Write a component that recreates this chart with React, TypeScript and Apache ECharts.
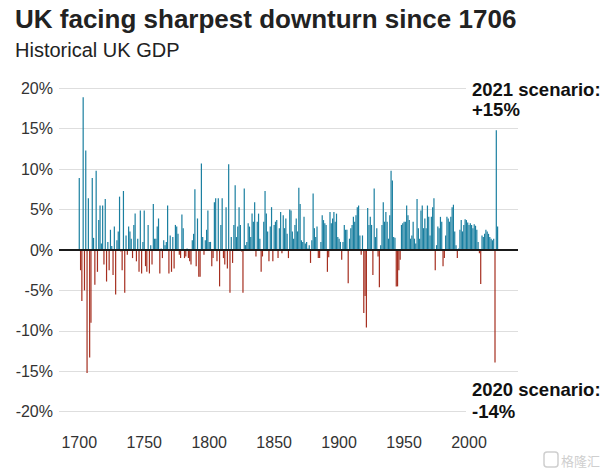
import React, { useEffect, useRef } from "react";
import * as echarts from "echarts";

const START_YEAR = 1700;

// Annual UK GDP growth (%)
const growth1700s = [
  8.9, -2.5, -6.3, 18.9, -5.0, 12.3, -15.2, 6.4, -13.3, -9.0,
  8.9, 1.5, -4.3, 9.8, -2.7, 3.7, 5.5, 0.8, 5.5, -1.8,
  6.3, -3.9, 1.0, -2.5, 2.5, 0.5, -3.1, 2.9, -5.5, 1.2,
  2.3, 6.6, -0.2, -2.5, 7.3, -5.3, 1.8, -0.6, 2.9, 2.3,
  1.4, -1.0, 3.1, 4.5, -1.4, 1.4, -2.7, 4.9, -2.9, 1.0,
  4.9, -2.0, -2.7, 3.1, -2.9, 0.6, -1.8, 5.7, 1.4, 1.4,
  2.9, 3.9, -2.9, 0.2, -1.0, 1.2, 0.6, 1.0, 5.5, -2.9,
  1.8, -2.7, 1.6, -2.3, 3.1, 2.9, 2.0, -0.6, -1.0, 4.4,
  2.7, -1.0, -0.8, 0.2, -1.0, -1.4, -1.8, 1.2, 2.0, 7.5,
  -2.0, 3.9, -3.3, -3.3, 10.7, 1.6, -0.6, 1.2, 2.5, 4.9,
];
const growth1800s = [
  1.0, 1.0, -2.0, -1.0, 5.9, 6.4, -1.4, 6.4, -4.5, 3.1,
  6.4, -1.0, -1.8, 5.3, -2.3, 10.6, -5.3, 1.6, -1.6, 3.1,
  8.0, 1.6, 2.9, 5.3, 3.1, -0.2, -5.3, 7.6, 0.6, 1.0,
  3.3, 2.9, 1.6, 4.5, 3.5, 5.9, -0.8, 3.5, 4.5, 1.4,
  -2.7, -0.8, 3.5, 7.3, 4.5, 2.3, -1.4, 2.9, 5.3, -1.4,
  3.1, 3.5, 3.7, -1.0, 2.7, 4.7, -0.4, 4.3, 2.7, 3.9,
  2.0, -1.0, 5.0, 4.9, 2.3, 1.4, 3.1, 3.9, 2.3, 7.7,
  5.7, 1.2, 1.0, 4.1, 0.8, 1.0, 0.2, 0.6, -1.6, 1.2,
  7.0, 2.7, 1.6, 2.9, -1.0, -1.0, 1.0, 4.3, 3.7, 3.3,
  3.1, -2.7, -0.9, 4.7, 3.3, 3.9, 4.7, 3.5, 4.5, 1.6,
];
const growth1900s = [
  1.4, 1.0, -1.2, 1.0, 3.1, 2.5, 2.5, -4.1, 1.4, 2.7,
  3.1, 4.1, 3.5, 4.3, 5.3, 5.5, 1.8, -0.6, 1.8, -7.8,
  -5.7, -9.6, 5.2, 3.1, 4.1, 3.1, -3.1, 7.6, 1.6, 2.7,
  -0.8, -4.6, 0.6, 3.1, 5.9, 3.5, 4.7, 3.5, 1.4, 4.3,
  9.8, 8.6, 1.6, 1.5, -4.5, -4.5, -2.5, -1.2, 3.1, 3.3,
  3.5, 3.5, 5.5, 4.3, 3.7, 1.4, 1.8, 3.5, 1.4, 0.8,
  6.3, 2.7, 1.4, 4.9, 5.5, 2.7, 3.9, 2.7, 5.5, 4.1,
  1.8, 4.1, 5.3, 6.4, -2.5, 0.6, 2.9, 2.7, 4.1, 3.5,
  -2.0, -1.0, 1.8, 4.1, 3.9, 3.5, 4.1, 5.3, 5.6, 2.3,
  0.6, -1.0, 0.2, 2.5, 3.7, 2.3, 3.1, 3.8, 3.7, 3.4,
];
const growth2000s = [
  3.1, 3.3, 3.1, 2.7, 3.2, 3.0, 2.5, 1.0, -0.4, -4.2,
  1.8, 1.6, 2.0, 2.5, 2.3, 2.0, 1.6, 1.4, 1.2, 1.4,
  -13.9, 14.8, 2.9,
];

const xTickYears = [1700, 1750, 1800, 1850, 1900, 1950, 2000];
const yMin = -20;
const yMax = 20;
const yStep = 5;

const titleText = "UK facing sharpest downturn since 1706";
const subtitleText = "Historical UK GDP";
const note2021 = ["2021 scenario:", "+15%"];
const note2020 = ["2020 scenario:", "-14%"];
const watermarkText = "格隆汇";

const FONT = "'Liberation Sans', Arial, Helvetica, sans-serif";
const POS = "#1a7fa0";
const NEG = "#a52e1f";

export default function App() {
  const ref = useRef<HTMLDivElement>(null);

  useEffect(() => {
    if (!ref.current) return;
    const chart = echarts.init(ref.current, null, { renderer: "svg" });
    const values = [...growth1700s, ...growth1800s, ...growth1900s, ...growth2000s];
    const data = values.map((v, i) => ({
      value: [START_YEAR + i, v],
      itemStyle: { color: v >= 0 ? POS : NEG },
    }));

    const txt = (text: string, x: number, y: number, size: number, weight: string, fill = "#1a1a1a") => ({
      type: "text",
      x,
      y,
      z: 20,
      silent: true,
      style: {
        text,
        fill,
        fontSize: size,
        fontWeight: weight,
        fontFamily: FONT,
        align: "left",
        verticalAlign: "middle",
      },
    });

    chart.setOption({
      animation: false,
      backgroundColor: "#ffffff",
      grid: { left: 59, right: 89, top: 88.3, bottom: 60.3, containLabel: false },
      xAxis: {
        type: "value",
        min: 1684.4,
        max: 2037.7,
        axisLine: { show: false },
        axisTick: { show: false },
        splitLine: { show: false },
        axisLabel: {
          customValues: xTickYears,
          formatter: (v: number) => String(v),
          margin: 23,
          color: "#333",
          fontSize: 16,
          fontFamily: FONT,
        },
      },
      yAxis: {
        type: "value",
        min: yMin,
        max: yMax,
        interval: yStep,
        axisLine: { show: false },
        axisTick: { show: false },
        axisLabel: {
          formatter: "{value}%",
          margin: 6,
          color: "#333",
          fontSize: 16,
          fontFamily: FONT,
        },
        splitLine: { lineStyle: { color: "#dedede", width: 1 } },
      },
      series: [
        {
          type: "bar",
          data,
          barWidth: 1.2,
          markLine: {
            silent: true,
            symbol: "none",
            label: { show: false },
            lineStyle: { color: "#1a1a1a", width: 2, type: "solid" },
            data: [{ yAxis: 0 }],
          },
        },
      ],
      graphic: [
        txt(titleText, 15, 18.5, 26, "bold", "#222"),
        txt(subtitleText, 15, 50, 20, "normal", "#222"),
        { type: "rect", z: 15, silent: true, shape: { x: 466, y: 78, width: 141, height: 44 }, style: { fill: "#fff" } },
        { type: "rect", z: 15, silent: true, shape: { x: 466, y: 378, width: 141, height: 44 }, style: { fill: "#fff" } },
        txt(note2021[0], 472, 89, 18.5, "bold", "#111"),
        txt(note2021[1], 472, 109.5, 18.5, "bold", "#111"),
        txt(note2020[0], 472, 389.5, 18.5, "bold", "#111"),
        txt(note2020[1], 472, 411, 18.5, "bold", "#111"),
        { type: "rect", z: 20, silent: true, shape: { x: 544, y: 452, width: 14, height: 15, r: 3 }, style: { fill: "none", stroke: "#cfcfcf", lineWidth: 1.5 } },
        {
          type: "text",
          x: 561,
          y: 460,
          z: 20,
          silent: true,
          style: { text: watermarkText, fill: "#cfcfcf", fontSize: 13, fontFamily: "'Noto Sans CJK SC', sans-serif", align: "left", verticalAlign: "middle" },
        },
      ],
    });

    return () => chart.dispose();
  }, []);

  return (
    <div
      ref={ref}
      style={{ position: "fixed", left: 0, top: 0, width: 607, height: 472, background: "#fff" }}
    />
  );
}
